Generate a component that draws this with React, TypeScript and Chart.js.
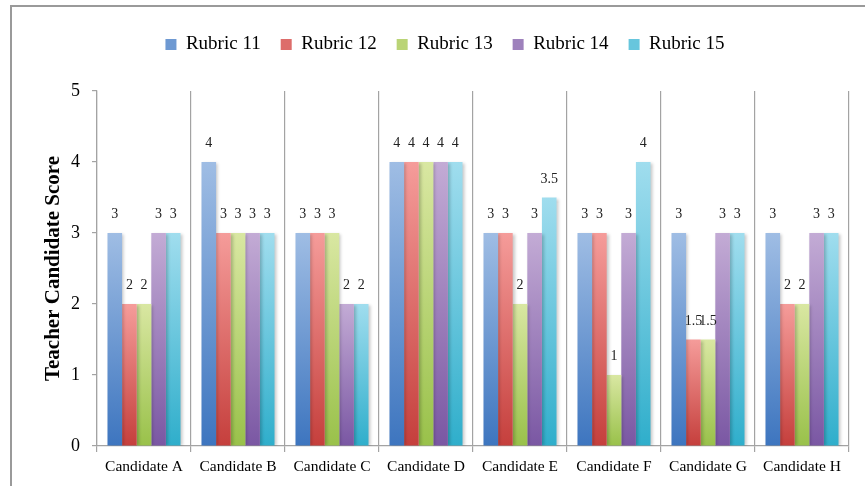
import React, { useEffect, useRef } from "react";
import { Chart, registerables } from "chart.js";

Chart.register(...registerables);

const categories = [
  "Candidate A",
  "Candidate B",
  "Candidate C",
  "Candidate D",
  "Candidate E",
  "Candidate F",
  "Candidate G",
  "Candidate H",
];
const seriesNames = ["Rubric 11", "Rubric 12", "Rubric 13", "Rubric 14", "Rubric 15"];
const rubric11 = [3, 4, 3, 4, 3, 3, 3, 3];
const rubric12 = [2, 3, 3, 4, 3, 3, 1.5, 2];
const rubric13 = [2, 3, 3, 4, 2, 1, 1.5, 2];
const rubric14 = [3, 3, 2, 4, 3, 3, 3, 3];
const rubric15 = [3, 3, 2, 4, 3.5, 4, 3, 3];
const yTicks = [0, 1, 2, 3, 4, 5];

const topColors = ["#9fbde4", "#f59c9a", "#d9e7a2", "#c3abd5", "#a0ddee"];
const bottomColors = ["#3d75bf", "#c53f3c", "#99c14a", "#7a57a3", "#2faecb"];
const midColors = ["#6e99d2", "#dd6d6b", "#bad476", "#9e81bc", "#67c6dd"];

const SERIF = '"Liberation Serif", "Times New Roman", Times, serif';

export default function App() {
  const ref = useRef<HTMLCanvasElement | null>(null);

  useEffect(() => {
    if (!ref.current) return;
    const seriesValues = [rubric11, rubric12, rubric13, rubric14, rubric15];

    const shadowPlugin = {
      id: "barShadow",
      beforeDatasetsDraw(chart: any) {
        const c = chart.ctx;
        c.save();
        c.shadowColor = "rgba(0,0,0,0.22)";
        c.shadowBlur = 3;
        c.shadowOffsetX = 2;
        c.shadowOffsetY = 1;
      },
      afterDatasetsDraw(chart: any) {
        chart.ctx.restore();
      },
    };

    const labelPlugin = {
      id: "valueLabels",
      afterDatasetsDraw(chart: any) {
        const c = chart.ctx;
        c.save();
        c.font = `14px ${SERIF}`;
        c.fillStyle = "#222";
        c.textAlign = "center";
        c.textBaseline = "middle";
        chart.data.datasets.forEach((ds: any, di: number) => {
          const meta = chart.getDatasetMeta(di);
          meta.data.forEach((el: any, i: number) => {
            const v = ds.data[i];
            c.fillText(String(v), el.x, el.y - 18.5);
          });
        });
        c.restore();
      },
    };

    const chart = new Chart(ref.current, {
      type: "bar",
      data: {
        labels: categories,
        datasets: seriesNames.map((name, si) => ({
          label: name,
          data: seriesValues[si],
          backgroundColor: (ctx: any) => {
            const ch = ctx.chart;
            const ys = ch.scales && ch.scales.y;
            if (!ys || ctx.type !== "data") return midColors[si];
            const v = ctx.raw as number;
            const yTop = ys.getPixelForValue(v);
            const yBot = ys.getPixelForValue(0);
            if (!isFinite(yTop) || !isFinite(yBot) || yTop === yBot) return midColors[si];
            const g = ch.ctx.createLinearGradient(0, yTop, 0, yBot);
            g.addColorStop(0, topColors[si]);
            g.addColorStop(1, bottomColors[si]);
            return g;
          },
          borderWidth: 0,
          categoryPercentage: 0.777,
          barPercentage: 1,
        })),
      },
      options: {
        animation: false,
        responsive: true,
        maintainAspectRatio: false,
        layout: { padding: { top: 15, left: 41, right: 16, bottom: 0 } },
        plugins: {
          tooltip: { enabled: false },
          legend: {
            display: true,
            position: "top",
            labels: {
              boxWidth: 11,
              boxHeight: 11,
              padding: 20,
              color: "#000",
              font: { family: SERIF, size: 19 },
              generateLabels: (chart: any) =>
                chart.data.datasets.map((ds: any, i: number) => ({
                  text: ds.label,
                  fillStyle: midColors[i],
                  strokeStyle: midColors[i],
                  lineWidth: 0,
                  hidden: false,
                  datasetIndex: i,
                  fontColor: "#000",
                })),
            },
          },
          subtitle: {
            display: true,
            text: "",
            position: "top",
            weight: 500,
            font: { size: 1 },
            padding: { top: 0, bottom: 25.8 },
          } as any,
        },
        scales: {
          x: {
            grid: {
              display: true,
              offset: true,
              color: "#a3a3a3",
              lineWidth: 1.2,
              tickLength: 6,
              drawOnChartArea: true,
            },
            border: { display: true, color: "#a3a3a3", width: 1.2 },
            ticks: {
              color: "#000",
              font: { family: SERIF, size: 15.5 },
              padding: 6,
              maxRotation: 0,
              autoSkip: false,
            },
            afterFit: (scale: any) => {
              scale.height = 40;
            },
          },
          y: {
            min: 0,
            max: 5,
            afterBuildTicks: (scale: any) => {
              scale.ticks = yTicks.map((v) => ({ value: v }));
            },
            grid: {
              display: true,
              drawOnChartArea: false,
              color: "#a3a3a3",
              lineWidth: 1.2,
              tickLength: 5,
            },
            border: { display: true, color: "#a3a3a3", width: 1.2 },
            ticks: {
              color: "#000",
              font: { family: SERIF, size: 18 },
              padding: 12,
            },
            title: {
              display: true,
              text: "Teacher Candidate Score",
              color: "#000",
              font: { family: SERIF, size: 21, weight: "bold" },
              padding: { top: 0, bottom: 0 },
            },
            afterFit: (scale: any) => {
              scale.width = 56;
            },
          },
        },
      },
      plugins: [shadowPlugin, labelPlugin],
    });

    return () => chart.destroy();
  }, []);

  return (
    <div
      style={{
        position: "fixed",
        left: 0,
        top: 0,
        width: 865,
        height: 486,
        background: "#fff",
        overflow: "hidden",
      }}
    >
      <canvas ref={ref} />
      <div
        style={{
          position: "absolute",
          left: 10,
          top: 5,
          width: 900,
          height: 600,
          borderLeft: "2px solid #9a9a9a",
          borderTop: "2px solid #9a9a9a",
          pointerEvents: "none",
        }}
      />
    </div>
  );
}
